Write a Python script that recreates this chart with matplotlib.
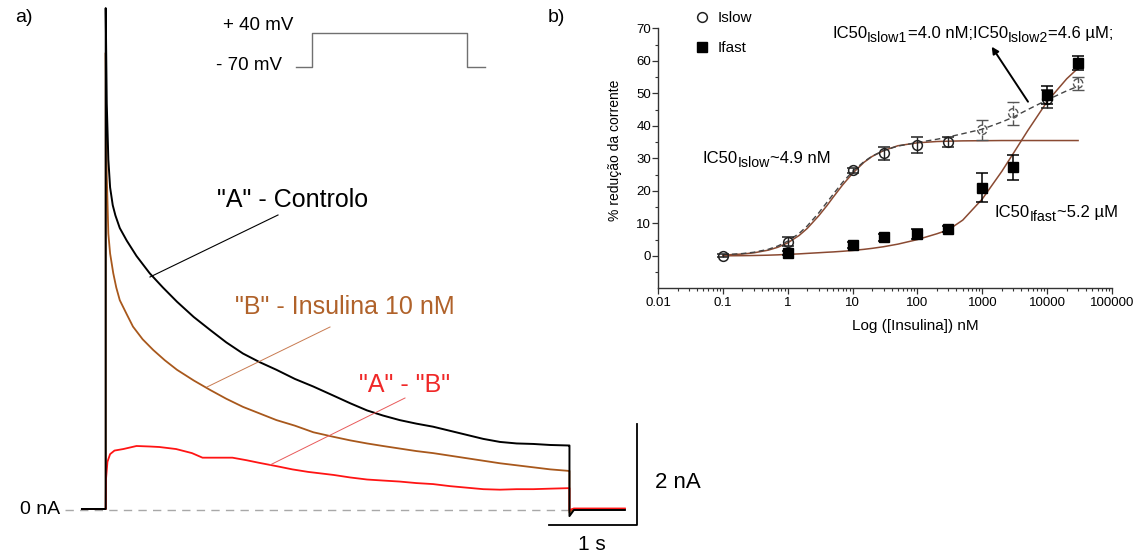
import matplotlib
matplotlib.use('Agg')
import matplotlib.pyplot as plt
from matplotlib.lines import Line2D
from matplotlib.ticker import FixedLocator, FixedFormatter, LogLocator, NullFormatter

plt.rcParams['font.family'] = ['Liberation Sans', 'DejaVu Sans']

# ---- panel a: current traces (time in s, current in nA) ----
t_ctrl = [-0.27, 0.0, 0.0, 0.012, 0.03, 0.05, 0.08, 0.11, 0.16, 0.24, 0.35, 0.5, 0.65,
          0.81, 1.0, 1.19, 1.37, 1.56, 1.75, 1.94, 2.15, 2.36, 2.59, 2.78, 2.97, 3.15,
          3.34, 3.53, 3.72, 3.91, 4.10, 4.29, 4.48, 4.67, 4.86, 5.05, 5.26, 5.27, 5.27,
          5.32, 5.9]
i_ctrl = [0.02, 0.02, 9.88, 8.0, 6.9, 6.35, 6.0, 5.8, 5.55, 5.3, 5.0, 4.66, 4.38,
          4.10, 3.80, 3.54, 3.30, 3.08, 2.91, 2.76, 2.58, 2.43, 2.25, 2.10, 1.96, 1.86,
          1.77, 1.70, 1.64, 1.56, 1.48, 1.40, 1.34, 1.31, 1.30, 1.28, 1.27, 1.27, -0.12,
          0.0, 0.0]

t_ins = [-0.27, 0.0, 0.0, 0.012, 0.03, 0.05, 0.086, 0.12, 0.16, 0.24, 0.31, 0.42, 0.54,
         0.67, 0.81, 1.0, 1.19, 1.37, 1.56, 1.75, 1.94, 2.15, 2.36, 2.59, 2.78, 2.97,
         3.15, 3.34, 3.53, 3.72, 3.91, 4.10, 4.29, 4.48, 4.67, 4.86, 5.05, 5.26, 5.27,
         5.27, 5.32, 5.9]
i_ins = [0.02, 0.02, 9.0, 6.6, 5.44, 5.05, 4.66, 4.38, 4.13, 3.85, 3.61, 3.36, 3.15,
         2.95, 2.76, 2.55, 2.36, 2.19, 2.03, 1.90, 1.77, 1.66, 1.53, 1.44, 1.37, 1.31,
         1.26, 1.21, 1.16, 1.12, 1.07, 1.02, 0.97, 0.92, 0.88, 0.84, 0.80, 0.77, 0.77,
         -0.05, 0.02, 0.02]

t_diff = [-0.27, 0.0, 0.003, 0.02, 0.05, 0.1, 0.2, 0.35, 0.5, 0.61, 0.8, 0.98, 1.1,
          1.25, 1.44, 1.6, 1.74, 1.95, 2.12, 2.3, 2.59, 2.78, 2.97, 3.15, 3.34, 3.53,
          3.72, 3.91, 4.10, 4.29, 4.48, 4.67, 4.86, 5.05, 5.26, 5.27, 5.27, 5.32, 5.9]
i_diff = [0.02, 0.02, 0.6, 0.95, 1.1, 1.17, 1.2, 1.26, 1.25, 1.24, 1.2, 1.12, 1.03,
          1.03, 1.03, 0.98, 0.93, 0.86, 0.8, 0.75, 0.69, 0.64, 0.6, 0.58, 0.56, 0.53,
          0.51, 0.47, 0.44, 0.41, 0.40, 0.41, 0.41, 0.42, 0.43, 0.43, 0.0, 0.03, 0.03]

# voltage protocol (schematic)
proto_t = [-0.55, 0, 0, 5.27, 5.27, 5.9]
proto_v = [-70, -70, 40, 40, -70, -70]

# ---- panel b: % current reduction vs insulin (nM) ----
conc_slow = [0.1, 1, 10, 30, 100, 300, 1000, 3000, 10000, 30000]
red_slow = [0.1, 4.4, 26.3, 31.6, 34.2, 35.0, 38.8, 43.9, 48.3, 53.1]
err_slow = [0.5, 1.5, 0.8, 2.0, 2.5, 1.6, 3.0, 3.5, 2.7, 2.0]
dashed_slow = [False, False, False, False, False, False, True, True, False, True]

conc_fast = [1, 10, 30, 100, 300, 1000, 3000, 10000, 30000]
red_fast = [0.8, 3.4, 5.7, 6.7, 8.3, 21.0, 27.2, 49.5, 59.3]
err_fast = [0.6, 1.0, 1.0, 1.5, 1.0, 4.5, 3.7, 2.7, 2.2]

fit_x = [0.1, 0.2, 0.3, 0.5, 0.7, 1, 1.5, 2, 3, 4, 5, 7, 10, 15, 20, 30, 50, 100,
         200, 300, 500, 1000, 2000, 3000, 5000, 10000, 20000, 30000]
fit_slow = [0.22, 0.55, 0.92, 1.74, 2.62, 3.99, 6.27, 8.44, 12.3, 15.4, 18.0, 21.8,
            25.4, 28.8, 30.6, 32.4, 33.9, 34.8, 35.2, 35.3, 35.4, 35.45, 35.5, 35.5,
            35.5, 35.5, 35.5, 35.5]
fit_slow2 = [0.3, 0.7, 1.1, 2.0, 3.0, 4.5, 6.9, 9.2, 13.2, 16.4, 18.9, 22.6, 26.0,
             29.0, 30.7, 32.4, 33.8, 34.9, 35.9, 36.6, 37.6, 39.0, 41.2, 42.7, 45.0,
             48.0, 50.8, 52.2]
fit_fast = [0.0, 0.05, 0.1, 0.2, 0.3, 0.45, 0.6, 0.75, 0.95, 1.1, 1.2, 1.4, 1.65,
            2.0, 2.3, 2.8, 3.6, 5.0, 6.8, 8.0, 11.0, 17.5, 26.0, 31.5, 38.5, 47.5,
            54.5, 57.8]

xticks = [0.01, 0.1, 1, 10, 100, 1000, 10000, 100000]
xticklabels = ['0.01', '0.1', '1', '10', '100', '1000', '10000', '100000']
yticks = [0, 10, 20, 30, 40, 50, 60, 70]

W, H = 1148, 555


def fx(px):
    return px / W


def fy(py):
    return 1 - py / H


fig = plt.figure(figsize=(W / 100, H / 100), dpi=100)
fig.patch.set_facecolor('white')

BLACK = '#000000'
BROWN = '#a8581c'
BROWN_TXT = '#b0622a'
RED = '#ff1414'
RED_TXT = '#f02828'

# trace axes, scaled so 1 s = 88 px and 1 nA = 50.8 px
T0_PX, PX_PER_S = 105.7, 88.0
ZERO_PX, PX_PER_NA = 510.0, 50.8
ax_a = fig.add_axes([0, 0, fx(660), 1])
ax_a.set_xlim(-T0_PX / PX_PER_S, (660 - T0_PX) / PX_PER_S)
ax_a.set_ylim((ZERO_PX - H) / PX_PER_NA, ZERO_PX / PX_PER_NA)
ax_a.axis('off')

ax_a.plot([-0.46, 5.27], [0, 0], color='#a8a8a8', lw=1.0, dashes=(6, 4.5))
ax_a.plot(t_ins, i_ins, color=BROWN, lw=1.3)
ax_a.plot(t_diff, i_diff, color=RED, lw=1.3)
ax_a.plot(t_ctrl, i_ctrl, color=BLACK, lw=1.4)

# scale bars: 1 s and 2 nA
bar_t, bar_i = 6.04, -0.30
ax_a.plot([bar_t - 1, bar_t, bar_t], [bar_i, bar_i, bar_i + 2], color=BLACK, lw=1.3)

# voltage protocol inset
ax_p = fig.add_axes([fx(296), fy(67), fx(485) - fx(296), (67 - 33) / H])
ax_p.plot(proto_t, proto_v, color='#707070', lw=1.0, clip_on=False)
ax_p.set_xlim(-0.55, 5.9)
ax_p.set_ylim(-70, 40)
ax_p.axis('off')

fig.text(fx(15), fy(17), 'a)', fontsize=14, va='center', ha='left')
fig.text(fx(293), fy(25), '+ 40 mV', fontsize=13.5, va='center', ha='right')
fig.text(fx(282), fy(65), '- 70 mV', fontsize=13.5, va='center', ha='right')
fig.text(fx(217), fy(200), '"A" - Controlo', fontsize=18, va='center', ha='left', color=BLACK)
fig.text(fx(235), fy(307), '"B" - Insulina 10 nM', fontsize=18, va='center', ha='left',
         color=BROWN_TXT)
fig.text(fx(359), fy(385), '"A" - "B"', fontsize=18, va='center', ha='left', color=RED_TXT)
fig.text(fx(60), fy(510), '0 nA', fontsize=14, va='center', ha='right')
fig.text(fx(655), fy(483), '2 nA', fontsize=16, va='center', ha='left')
fig.text(fx(592), fy(544), '1 s', fontsize=15, va='center', ha='center')

# callout lines
for (x0, y0, x1, y1), c, w in [((150, 277, 278, 215), BLACK, 0.8),
                               ((207, 387, 330, 327), '#c87a50', 0.7),
                               ((270, 465, 405, 398), '#e85a5a', 0.7)]:
    fig.add_artist(Line2D([fx(x0), fx(x1)], [fy(y0), fy(y1)], color=c, lw=w))

# ---- panel b ----
ax_b = fig.add_axes([fx(658), fy(288.3), fx(1112) - fx(658), 259.8 / H])
ax_b.set_xscale('log')
ax_b.set_xlim(0.01, 100000)
ax_b.set_ylim(-10, 70)

FIT = '#8a4a32'
ax_b.plot(fit_x, fit_slow, color=FIT, lw=1.1, zorder=2)
ax_b.plot(fit_x, fit_slow2, color='#444444', lw=1.0, dashes=(4, 2.5), zorder=2)
ax_b.plot(fit_x, fit_fast, color=FIT, lw=1.1, zorder=2)

solid_idx = [k for k, d in enumerate(dashed_slow) if not d]
dash_idx = [k for k, d in enumerate(dashed_slow) if d]
ax_b.errorbar([conc_slow[k] for k in solid_idx], [red_slow[k] for k in solid_idx],
              yerr=[err_slow[k] for k in solid_idx], fmt='o', ms=7, mfc='none',
              mec='#222222', mew=1.1, ecolor='#222222', elinewidth=1.0, capsize=4,
              capthick=1.0, zorder=3)
eb = ax_b.errorbar([conc_slow[k] for k in dash_idx], [red_slow[k] for k in dash_idx],
                   yerr=[err_slow[k] for k in dash_idx], fmt='none', ecolor='#555555',
                   elinewidth=1.0, capsize=4, capthick=1.0, zorder=3)
eb[2][0].set_linestyle('--')
ax_b.scatter([conc_slow[k] for k in dash_idx], [red_slow[k] for k in dash_idx], s=45,
             facecolors='none', edgecolors='#555555', linewidths=1.0, linestyles='--',
             zorder=3)
ax_b.errorbar(conc_fast, red_fast, yerr=err_fast, fmt='s', ms=6.5, mfc='black',
              mec='black', ecolor='black', elinewidth=1.1, capsize=4, capthick=1.1,
              zorder=4)

for s in ['top', 'right']:
    ax_b.spines[s].set_visible(False)
for s in ['left', 'bottom']:
    ax_b.spines[s].set_linewidth(1.0)
    ax_b.spines[s].set_color('#333333')

ax_b.xaxis.set_major_locator(FixedLocator(xticks))
ax_b.xaxis.set_major_formatter(FixedFormatter(xticklabels))
ax_b.xaxis.set_minor_locator(LogLocator(base=10, subs=range(2, 10), numticks=20))
ax_b.xaxis.set_minor_formatter(NullFormatter())
ax_b.yaxis.set_major_locator(FixedLocator(yticks))
ax_b.yaxis.set_minor_locator(FixedLocator([-5, 5, 15, 25, 35, 45, 55, 65]))
ax_b.tick_params(which='major', direction='out', length=4.5, width=0.9,
                 labelsize=9.5, pad=1.5, color='#333333')
ax_b.tick_params(which='minor', direction='out', length=2.3, width=0.8, color='#333333')
ax_b.tick_params(axis='y', which='major', pad=0.5)

fig.text(fx(615), fy(150), '% redução da corrente', rotation=90, fontsize=10,
         va='center', ha='center')
fig.text(fx(915), fy(326), 'Log ([Insulina]) nM', fontsize=11, va='center', ha='center')
fig.text(fx(548), fy(18), 'b)', fontsize=14, va='center', ha='left')

handles = [Line2D([], [], ls='none', marker='o', ms=7, mfc='none', mec='#222222', mew=1.1),
           Line2D([], [], ls='none', marker='s', ms=6.5, mfc='black', mec='black')]
ax_b.legend(handles, ['Islow', 'Ifast'], loc='upper left',
            bbox_to_anchor=(fx(694), fy(11)), bbox_transform=fig.transFigure,
            frameon=False, fontsize=11, handlelength=1.0, handletextpad=0.55,
            labelspacing=1.05, borderpad=0, borderaxespad=0)


def rich(x_px, y_px, pieces, color='black'):
    # pieces: (text, size, vertical offset in points)
    txt, size, dy = pieces[0]
    prev = fig.text(fx(x_px), fy(y_px), txt, fontsize=size, va='baseline', ha='left',
                    color=color)
    prev_dy = dy
    for txt, size, dy in pieces[1:]:
        prev = ax_b.annotate(txt, xy=(1, 0), xycoords=prev, xytext=(0, dy - prev_dy),
                             textcoords='offset points', va='bottom', ha='left',
                             fontsize=size, color=color, annotation_clip=False)
        prev_dy = dy


FS, SUB, DROP = 12, 10.2, -3.2
rich(703, 163, [('IC50', FS, 0), ('Islow', SUB, DROP), ('~4.9 nM', FS, 0)])
rich(832, 38, [('IC50', FS, 0), ('Islow1', SUB, DROP), ('=4.0 nM;IC50', FS, 0),
               ('Islow2', SUB, DROP), ('=4.6 µM;', FS, 0)])
rich(995, 217, [('IC50', FS, 0), ('Ifast', SUB, DROP), ('~5.2 µM', FS, 0)])

ax_b.annotate('', xy=(991.7, H - 46.7), xycoords='figure pixels',
              xytext=(1028, H - 101.7), textcoords='figure pixels',
              arrowprops=dict(arrowstyle='-|>', color='black', lw=1.4, mutation_scale=10,
                              shrinkA=0, shrinkB=0))

fig.savefig('out.png', dpi=100)
